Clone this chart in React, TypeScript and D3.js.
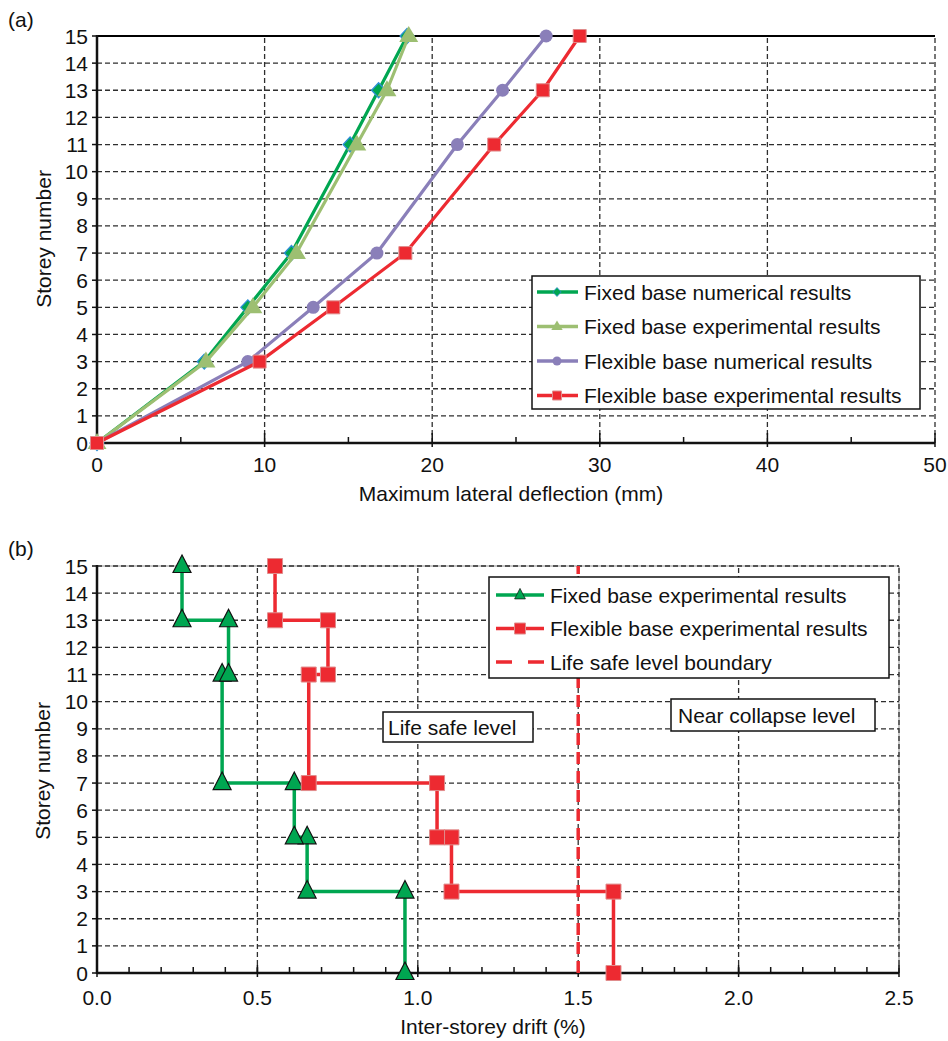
import * as d3 from 'd3';
import React from 'react';

// storeys where deflection was measured (chart a)
const storeys = [0, 3, 5, 7, 11, 13, 15];
const fixedNum = [0, 6.4, 9.0, 11.6, 15.1, 16.8, 18.5];
const fixedExp = [0, 6.5, 9.3, 11.9, 15.5, 17.3, 18.6];
const flexNum = [0, 9.0, 12.9, 16.7, 21.5, 24.2, 26.8];
const flexExp = [0, 9.7, 14.1, 18.4, 23.7, 26.6, 28.8];

// step profile of inter-storey drift (chart b)
const driftStoreys = [0, 3, 3, 5, 5, 7, 7, 11, 11, 13, 13, 15];
const fixedDrift = [0.96, 0.96, 0.655, 0.655, 0.615, 0.615, 0.39, 0.39, 0.41, 0.41, 0.265, 0.265];
const flexDrift = [1.61, 1.61, 1.105, 1.105, 1.06, 1.06, 0.66, 0.66, 0.72, 0.72, 0.555, 0.555];
const lifeSafeLimit = 1.5;

const storeyTicks = d3.range(0, 16);
const deflTicks = [0, 10, 20, 30, 40, 50];
const deflMinor = [5, 15, 25, 35, 45];
const driftTicks = [0, 0.5, 1.0, 1.5, 2.0, 2.5];
const driftMinor = d3.range(1, 25).map((d) => d / 10);

const topLegend = [
  'Fixed base numerical results',
  'Fixed base experimental results',
  'Flexible base numerical results',
  'Flexible base experimental results',
];
const bottomLegend = [
  'Fixed base experimental results',
  'Flexible base experimental results',
  'Life safe level boundary',
];

const FONT = 'Liberation Sans, Arial, Helvetica, sans-serif';
const GREEN = '#00a651';
const LIGHTGREEN = '#9dbf72';
const PURPLE = '#8a7fb9';
const RED = '#ed2a31';
const GRID = '#2e2e2e';

const diamond = 'M0,-7.5L7,0L0,7.5L-7,0Z';
const triTop = 'M0,-10L9.5,6L-9.5,6Z';
const square = (s: number) => `M${-s / 2},${-s / 2}h${s}v${s}h${-s}Z`;
const triBottom = 'M0,-11L9,6.5L-9,6.5Z';

function Marker({ x, y, kind, small }: { x: number; y: number; kind: string; small?: boolean }) {
  const t = `translate(${x},${y})`;
  if (kind === 'diamond')
    return <path d={diamond} transform={t + (small ? ' scale(0.6)' : '')} fill={GREEN} stroke="#2e8fd6" strokeWidth={1.3} />;
  if (kind === 'triLight')
    return <path d={triTop} transform={t + (small ? ' scale(0.6)' : '')} fill={LIGHTGREEN} />;
  if (kind === 'circle') return <circle cx={x} cy={y} r={small ? 4.5 : 6.5} fill={PURPLE} />;
  if (kind === 'square')
    return <path d={square(small ? 9 : 13)} transform={t} fill={RED} stroke="#e08c8c" strokeWidth={1} />;
  if (kind === 'bigSquare')
    return <path d={square(small ? 11 : 15)} transform={t} fill={RED} stroke="#e08c8c" strokeWidth={1} />;
  if (kind === 'triGreen')
    return <path d={triBottom} transform={t + (small ? ' scale(0.6)' : '')} fill={GREEN} stroke="#111" strokeWidth={1.2} />;
  return null;
}

function ChartA() {
  const x = d3.scaleLinear().domain([0, 50]).range([97, 935]);
  const y = d3.scaleLinear().domain([0, 15]).range([443, 36]);
  const line = d3
    .line<number>()
    .x((d) => x(d))
    .y((d, i) => y(storeys[i]));
  const series = [
    { vals: fixedNum, color: GREEN, kind: 'diamond' },
    { vals: fixedExp, color: LIGHTGREEN, kind: 'triLight' },
    { vals: flexNum, color: PURPLE, kind: 'circle' },
    { vals: flexExp, color: RED, kind: 'square' },
  ];
  return (
    <g>
      <text x={8} y={27} fontSize={21}>(a)</text>
      {storeyTicks.slice(1, 15).map((s) => (
        <line key={s} x1={x(0)} x2={x(50)} y1={y(s)} y2={y(s)} stroke={GRID} strokeWidth={1.3} strokeDasharray="5,3" />
      ))}
      {deflTicks.slice(1).map((d) => (
        <line key={d} x1={x(d)} x2={x(d)} y1={y(0)} y2={y(15)} stroke={GRID} strokeWidth={1.3} strokeDasharray="5,3" />
      ))}
      <line x1={x(0)} x2={x(50)} y1={y(15)} y2={y(15)} stroke="#000" strokeWidth={2} />
      <line x1={x(0)} x2={x(0)} y1={y(0) + 1} y2={y(15) - 1} stroke="#111" strokeWidth={2.5} />
      <line x1={x(0)} x2={x(50)} y1={y(0)} y2={y(0)} stroke="#111" strokeWidth={2.5} />
      {storeyTicks.map((s) => (
        <g key={s}>
          <line x1={x(0) - 5} x2={x(0)} y1={y(s)} y2={y(s)} stroke="#111" strokeWidth={1.5} />
          <text x={88} y={y(s)} textAnchor="end" dominantBaseline="central" fontSize={21}>{s}</text>
        </g>
      ))}
      {deflTicks.map((d) => (
        <g key={d}>
          <line x1={x(d)} x2={x(d)} y1={y(0) - 10} y2={y(0) + 4} stroke="#111" strokeWidth={1.5} />
          <text x={x(d)} y={464} textAnchor="middle" dominantBaseline="central" fontSize={21}>{d}</text>
        </g>
      ))}
      {deflMinor.map((d) => (
        <line key={d} x1={x(d)} x2={x(d)} y1={y(0) - 6} y2={y(0)} stroke="#111" strokeWidth={1.5} />
      ))}
      <text x={511} y={493} textAnchor="middle" dominantBaseline="central" fontSize={21}>
        Maximum lateral deflection (mm)
      </text>
      <text transform={`translate(43,239) rotate(-90)`} textAnchor="middle" dominantBaseline="central" fontSize={21}>
        Storey number
      </text>
      {series.map((s) => (
        <g key={s.kind}>
          <path d={line(s.vals) || ''} fill="none" stroke={s.color} strokeWidth={3.2} strokeLinejoin="round" />
          {s.vals.map((v, i) => (
            <Marker key={i} x={x(v)} y={y(storeys[i])} kind={s.kind} />
          ))}
        </g>
      ))}
      <rect x={532} y={276} width={388} height={133} fill="#fff" stroke="#111" strokeWidth={1.5} />
      {topLegend.map((label, i) => {
        const ly = 292 + i * 34.5;
        return (
          <g key={label}>
            <line x1={537} x2={578} y1={ly} y2={ly} stroke={series[i].color} strokeWidth={3.5} />
            <Marker x={557} y={ly} kind={series[i].kind} small />
            <text x={584} y={ly} dominantBaseline="central" fontSize={21}>{label}</text>
          </g>
        );
      })}
    </g>
  );
}

function ChartB() {
  const x = d3.scaleLinear().domain([0, 2.5]).range([97, 899]);
  const y = d3.scaleLinear().domain([0, 15]).range([973, 566]);
  const line = d3
    .line<number>()
    .x((d) => x(d))
    .y((d, i) => y(driftStoreys[i]));
  const series = [
    { vals: fixedDrift, color: GREEN, kind: 'triGreen' },
    { vals: flexDrift, color: RED, kind: 'bigSquare' },
  ];
  return (
    <g>
      <text x={8} y={556} fontSize={21}>(b)</text>
      <line x1={x(0)} x2={x(2.5)} y1={y(15)} y2={y(15)} stroke="#777" strokeWidth={0.8} />
      <line x1={x(2.5)} x2={x(2.5)} y1={y(0)} y2={y(15)} stroke="#777" strokeWidth={0.8} />
      {storeyTicks.slice(1).map((s) => (
        <line key={s} x1={x(0)} x2={x(2.5)} y1={y(s)} y2={y(s)} stroke={GRID} strokeWidth={1.3} strokeDasharray="5,3" />
      ))}
      {driftTicks.slice(1).map((d) => (
        <line key={d} x1={x(d)} x2={x(d)} y1={y(0)} y2={y(15)} stroke={GRID} strokeWidth={1.3} strokeDasharray="5,3" />
      ))}
      <line x1={x(0)} x2={x(0)} y1={y(0) + 1} y2={y(15) - 1} stroke="#111" strokeWidth={2.5} />
      <line x1={x(0)} x2={x(2.5)} y1={y(0)} y2={y(0)} stroke="#111" strokeWidth={2.5} />
      {storeyTicks.map((s) => (
        <g key={s}>
          <line x1={x(0) - 5} x2={x(0)} y1={y(s)} y2={y(s)} stroke="#111" strokeWidth={1.5} />
          <text x={88} y={y(s)} textAnchor="end" dominantBaseline="central" fontSize={21}>{s}</text>
        </g>
      ))}
      {driftTicks.map((d) => (
        <g key={d}>
          <line x1={x(d)} x2={x(d)} y1={y(0) - 8} y2={y(0) + 4} stroke="#111" strokeWidth={1.5} />
          <text x={x(d)} y={997} textAnchor="middle" dominantBaseline="central" fontSize={21}>{d.toFixed(1)}</text>
        </g>
      ))}
      {driftMinor.map((d) => (
        <line key={d} x1={x(d)} x2={x(d)} y1={y(0) - 6} y2={y(0)} stroke="#111" strokeWidth={1.5} />
      ))}
      <text x={493} y={1026} textAnchor="middle" dominantBaseline="central" fontSize={21}>
        Inter-storey drift (%)
      </text>
      <text transform={`translate(42,771) rotate(-90)`} textAnchor="middle" dominantBaseline="central" fontSize={21}>
        Storey number
      </text>
      <line x1={x(lifeSafeLimit)} x2={x(lifeSafeLimit)} y1={y(0)} y2={y(15)} stroke={RED} strokeWidth={3.5} strokeDasharray="12,7" />
      {series.map((s) => (
        <g key={s.kind}>
          <path d={line(s.vals) || ''} fill="none" stroke={s.color} strokeWidth={3.5} />
          {s.vals.map((v, i) => (
            <Marker key={i} x={x(v)} y={y(driftStoreys[i])} kind={s.kind} />
          ))}
        </g>
      ))}
      <rect x={489} y={577} width={400} height={101} fill="#fff" stroke="#111" strokeWidth={1.5} />
      {bottomLegend.map((label, i) => {
        const ly = 595 + i * 33.5;
        return (
          <g key={label}>
            {i < 2 ? (
              <>
                <line x1={496} x2={544} y1={ly} y2={ly} stroke={series[i].color} strokeWidth={3.5} />
                <Marker x={520} y={ly} kind={series[i].kind} small />
              </>
            ) : (
              <line x1={496} x2={544} y1={ly} y2={ly} stroke={RED} strokeWidth={3.5} strokeDasharray="16,16" />
            )}
            <text x={550} y={ly} dominantBaseline="central" fontSize={21}>{label}</text>
          </g>
        );
      })}
      <rect x={383} y={712} width={150} height={30} fill="#fff" stroke="#111" strokeWidth={1.5} />
      <text x={388} y={727} dominantBaseline="central" fontSize={21}>Life safe level</text>
      <rect x={671} y={699} width={204} height={32} fill="#fff" stroke="#111" strokeWidth={1.5} />
      <text x={678} y={715} dominantBaseline="central" fontSize={21}>Near collapse level</text>
    </g>
  );
}

export default function App() {
  return (
    <svg
      width={948}
      height={1041}
      style={{ position: 'absolute', left: 0, top: 0, background: '#fff' }}
      fontFamily={FONT}
      fill="#111"
    >
      <ChartA />
      <ChartB />
    </svg>
  );
}
